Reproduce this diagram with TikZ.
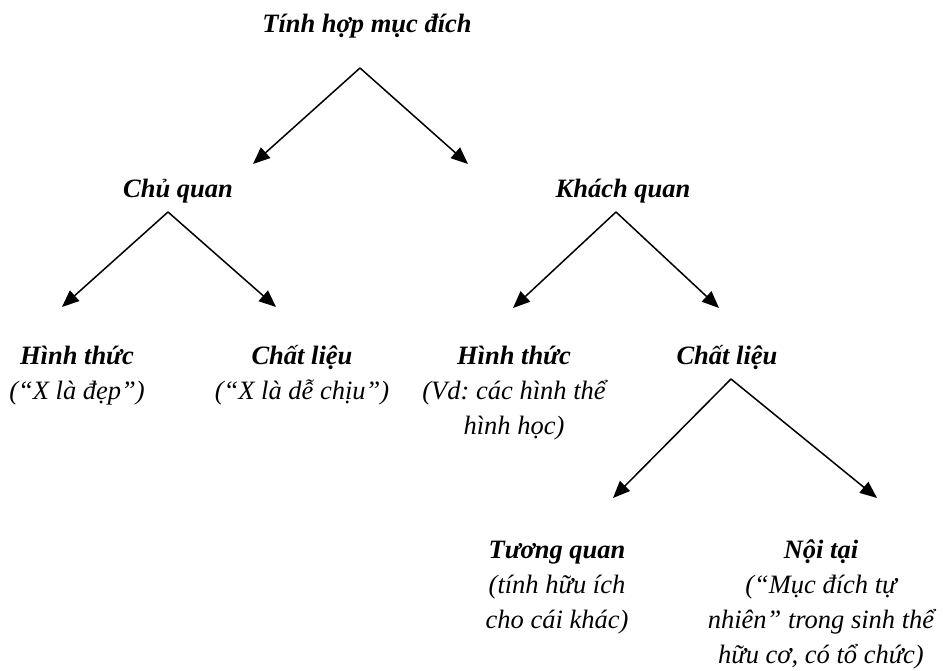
\documentclass[tikz,border=0pt]{standalone}
\usepackage{fontspec}
\setmainfont{Liberation Serif}
\usetikzlibrary{arrows.meta}
\frenchspacing
\newcommand{\itemblk}[1]{\setlength{\tabcolsep}{0pt}\begin{tabular}[t]{c}#1\end{tabular}}
\begin{document}
\begin{tikzpicture}[x=1pt,y=-1pt,
  lbl/.style={anchor=base,inner sep=0pt,font=\fontsize{26.5}{35}\selectfont\itshape},
  arr/.style={line width=1.5pt,-{Triangle[length=17pt,width=14pt]}}]
\useasboundingbox (0,0) rectangle (943,671);
% text nodes
\node[lbl] (root) at (367,33) {\textbf{Tính hợp mục đích}};
\node[lbl] (cq) at (178,198) {\textbf{Chủ quan}};
\node[lbl] (kq) at (623,198) {\textbf{Khách quan}};
\node[lbl] (ht1) at (77,364) {\itemblk{\textbf{Hình thức}\\(“X là đẹp”)}};
\node[lbl] (cl1) at (302,364) {\itemblk{\textbf{Chất liệu}\\(“X là dễ chịu”)}};
\node[lbl] (ht2) at (514,364) {\itemblk{\textbf{Hình thức}\\(Vd: các hình thể\\hình học)}};
\node[lbl] (cl2) at (727,364) {\textbf{Chất liệu}};
\node[lbl] (tq) at (557,558) {\itemblk{\textbf{Tương quan}\\(tính hữu ích\\cho cái khác)}};
\node[lbl] (nt) at (821,558) {\itemblk{\textbf{Nội tại}\\(“Mục đích tự\\nhiên” trong sinh thể\\hữu cơ, có tổ chức)}};
% connector ends
\coordinate (a0) at (360,68);
\coordinate (t0l) at (253,164);
\coordinate (t0r) at (468,164);
\coordinate (a1) at (168,212);
\coordinate (t1l) at (62,307);
\coordinate (t1r) at (276,307);
\coordinate (a2) at (616,212);
\coordinate (t2l) at (513,308);
\coordinate (t2r) at (719,308);
\coordinate (a3) at (731,379);
\coordinate (t3l) at (613,498);
\coordinate (t3r) at (877,498);
\draw[arr] (a0) -- (t0l);
\draw[arr] (a0) -- (t0r);
\draw[arr] (a1) -- (t1l);
\draw[arr] (a1) -- (t1r);
\draw[arr] (a2) -- (t2l);
\draw[arr] (a2) -- (t2r);
\draw[arr] (a3) -- (t3l);
\draw[arr] (a3) -- (t3r);
\end{tikzpicture}
\end{document}
